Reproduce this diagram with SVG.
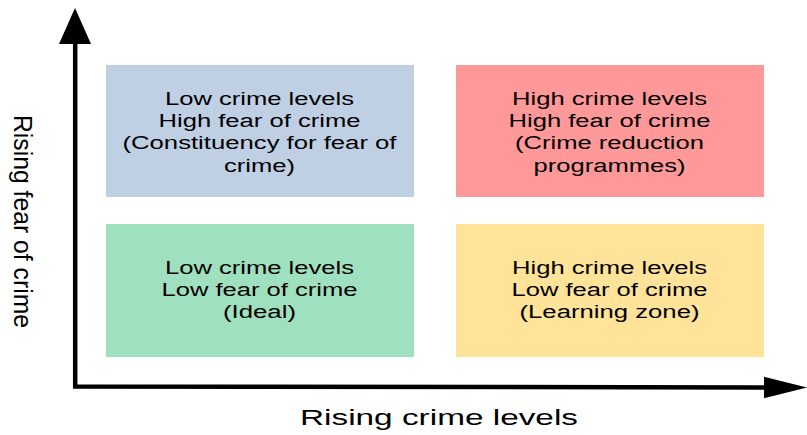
<svg xmlns="http://www.w3.org/2000/svg" width="807" height="435" viewBox="0 0 807 435">
<style>
.box{stroke:none}
.t{font-family:"Liberation Sans",Arial,sans-serif;font-size:18px;fill:#000;text-anchor:middle}
.ax{font-family:"Liberation Sans",Arial,sans-serif;fill:#000}
.axis{fill:none;stroke:#000;stroke-width:4.5;stroke-linejoin:miter}
</style>
<rect width="807" height="435" fill="#fff"/>
<g id="connectors">
<polyline class="axis" points="75.2,43 75.2,386.4 765,387.4"/>
<polygon points="75,8 59,44 91,44" fill="#000"/>
<polygon points="807,387.5 764,376.7 764,398.3" fill="#000"/>
</g>
<g id="node-low-crime-high-fear">
<rect class="box" x="106" y="65" width="308" height="132" fill="#bfcfe4"/>
<text class="t" x="259.5" y="104.5" textLength="189" lengthAdjust="spacingAndGlyphs">Low crime levels</text>
<text class="t" x="259.5" y="126.5" textLength="202" lengthAdjust="spacingAndGlyphs">High fear of crime</text>
<text class="t" x="259.5" y="149" textLength="274" lengthAdjust="spacingAndGlyphs">(Constituency for fear of</text>
<text class="t" x="259.5" y="171.5" textLength="71" lengthAdjust="spacingAndGlyphs">crime)</text>
</g>
<g id="node-high-crime-high-fear">
<rect class="box" x="456" y="65" width="308" height="132" fill="#ff9999"/>
<text class="t" x="609.5" y="104.5" textLength="195" lengthAdjust="spacingAndGlyphs">High crime levels</text>
<text class="t" x="609.5" y="126.5" textLength="202" lengthAdjust="spacingAndGlyphs">High fear of crime</text>
<text class="t" x="609.5" y="149" textLength="189" lengthAdjust="spacingAndGlyphs">(Crime reduction</text>
<text class="t" x="609.5" y="171.5" textLength="152" lengthAdjust="spacingAndGlyphs">programmes)</text>
</g>
<g id="node-low-crime-low-fear">
<rect class="box" x="106" y="224" width="308" height="133" fill="#9fe0bf"/>
<text class="t" x="259.5" y="274" textLength="189" lengthAdjust="spacingAndGlyphs">Low crime levels</text>
<text class="t" x="259.5" y="296" textLength="196" lengthAdjust="spacingAndGlyphs">Low fear of crime</text>
<text class="t" x="259.5" y="318" textLength="73" lengthAdjust="spacingAndGlyphs">(Ideal)</text>
</g>
<g id="node-high-crime-low-fear">
<rect class="box" x="456" y="224" width="308" height="133" fill="#ffe399"/>
<text class="t" x="609.5" y="274" textLength="195" lengthAdjust="spacingAndGlyphs">High crime levels</text>
<text class="t" x="609.5" y="296" textLength="196" lengthAdjust="spacingAndGlyphs">Low fear of crime</text>
<text class="t" x="609.5" y="318" textLength="180" lengthAdjust="spacingAndGlyphs">(Learning zone)</text>
</g>
<g id="label-x">
<text class="ax" x="300" y="425" font-size="22" textLength="278" lengthAdjust="spacingAndGlyphs">Rising crime levels</text>
</g>
<g id="label-y">
<text class="ax" transform="translate(13.5,115) rotate(90)" x="0" y="0" font-size="26" textLength="213" lengthAdjust="spacingAndGlyphs">Rising fear of crime</text>
</g>
</svg>
